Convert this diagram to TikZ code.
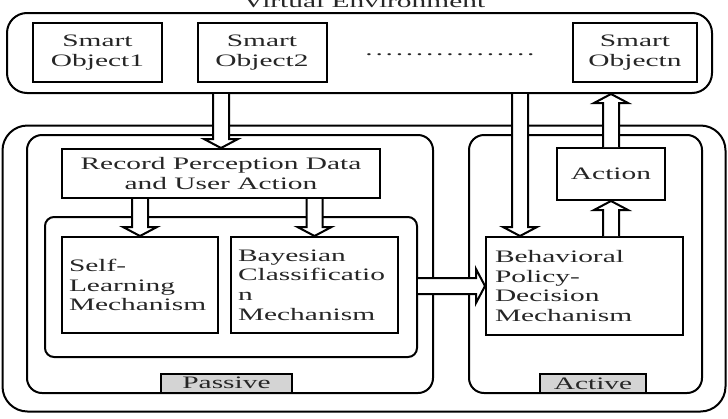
\documentclass[tikz,border=0pt]{standalone}
\usepackage{fontspec}
\setmainfont[FakeStretch=1.68]{Liberation Serif}
\usetikzlibrary{calc, positioning}

\begin{document}
\begin{tikzpicture}[
    x=1pt, y=-1pt,
    txt/.style={font=\fontsize{17.5}{19.8}\selectfont, text=black!85},
    grp/.style={rectangle, draw, line width=2pt, rounded corners=#1, inner sep=0pt},
    grp/.default=15pt,
    blk/.style={rectangle, draw, line width=2pt, fill=white, inner sep=0pt, txt, align=center},
    lblk/.style={blk, align=left, inner xsep=7pt},
    tag/.style={blk, fill=black!17, minimum height=19pt},
    fat/.style={draw, fill=white, line width=2pt,
        to path={
            ($(\tikztostart)!8pt!90:(\tikztotarget)$)
            -- ($(\tikztotarget)!9pt!(\tikztostart)!8pt!-90:(\tikztostart)$)
            -- ($(\tikztotarget)!9pt!(\tikztostart)!17pt!-90:(\tikztostart)$)
            -- (\tikztotarget)
            -- ($(\tikztotarget)!9pt!(\tikztostart)!17pt!90:(\tikztostart)$)
            -- ($(\tikztotarget)!9pt!(\tikztostart)!8pt!90:(\tikztostart)$)
            -- ($(\tikztostart)!8pt!-90:(\tikztotarget)$)}}
]
    \useasboundingbox (0,0) rectangle (728,418);

    % Containers: environment on top, agent with passive / active parts below
    \node[grp=20pt, minimum width=705pt, minimum height=80pt] (env) at (359.5, 53) {};
    \node[txt, anchor=base] (title) at (364, 7.6) {Virtual Environment};
    \node[grp=25pt, minimum width=723pt, minimum height=286pt] (agent) at (364, 268.5) {};
    \node[grp, minimum width=406pt, minimum height=258pt] (pas) at (230, 264) {};
    \node[grp, minimum width=233pt, minimum height=258pt] (actv) at (585.5, 264) {};
    \node[grp=9pt, minimum width=372pt, minimum height=140pt] (inner) at (231, 287) {};

    % Smart objects
    \node[blk, minimum width=129pt, minimum height=59pt] (obj1) at (97.5, 52.5) {Smart\\Object1};
    \node[blk, minimum width=129pt, minimum height=59pt] (obj2) at (262, 52.5) {Smart\\Object2};
    \node[txt, anchor=base] (dots) at (450, 55) {\hbox to 172pt{\xleaders\hbox to 10pt{\hss.\hss}\hfill}};
    \node[blk, minimum width=124pt, minimum height=59pt] (objn) at (635, 52.5) {Smart\\Objectn};

    % Passive part
    \node[blk, minimum width=318pt, minimum height=49pt] (rec) at (221, 173.5) {Record Perception Data\\and User Action};
    \node[lblk, minimum width=156pt, minimum height=96pt, text width=142pt] (slf) at (140, 285) {Self-\\Learning\\Mechanism};
    \node[lblk, minimum width=167pt, minimum height=96pt, text width=153pt] (bay) at (314.5, 285) {Bayesian\\Classificatio\\n\\Mechanism};
    \node[tag, minimum width=131pt] (ptag) at (226.5, 383) {Passive};

    % Active part
    \node[blk, minimum width=108pt, minimum height=52pt] (act) at (611, 174) {Action};
    \node[lblk, minimum width=197pt, minimum height=98pt, text width=179pt, inner xsep=9pt] (beh) at (584.5, 286) {Behavioral\\Policy-\\Decision\\Mechanism};
    \node[tag, minimum width=106pt] (atag) at (593, 383.5) {Active};

    % Hollow arrows
    \coordinate (behin) at ([xshift=35pt]beh.north west);
    \draw[fat] (env.south -| rec.north) to (rec.north);
    \draw[fat] (rec.south -| slf.north) to (slf.north);
    \draw[fat] (rec.south -| bay.north) to (bay.north);
    \draw[fat] (inner.east |- beh.west) to (beh.west);
    \draw[fat] (env.south -| behin) to (behin);
    \draw[fat] (beh.north -| act.south) to (act.south);
    \draw[fat] (act.north) to (env.south -| act.north);
\end{tikzpicture}
\end{document}
